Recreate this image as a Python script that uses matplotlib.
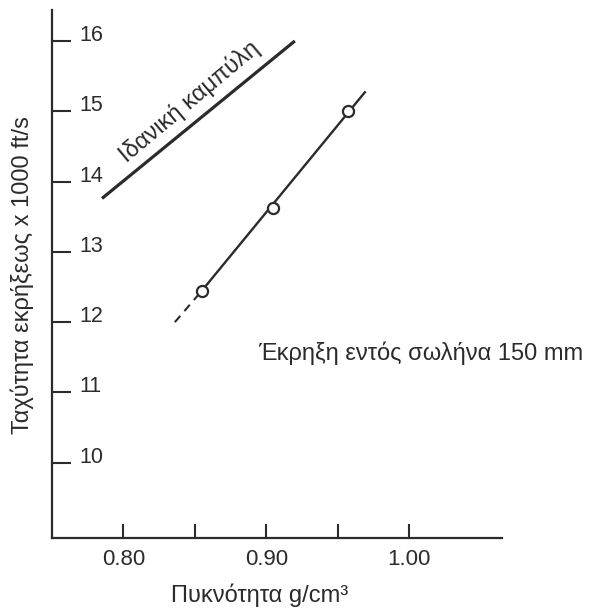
import matplotlib
matplotlib.use("Agg")
import matplotlib.pyplot as plt

plt.rcParams['font.family'] = ['Liberation Sans', 'DejaVu Sans']

# Μετρήσεις (πυκνότητα g/cm3, ταχύτητα x 1000 ft/s)
density = [0.855, 0.905, 0.957]
velocity = [12.45, 13.63, 15.0]

# Ευθεία προσαρμογής και προέκταση με διακεκομμένη
fit_density = [0.855, 0.969]
fit_velocity = [12.45, 15.27]
dash_density = [0.836, 0.855]
dash_velocity = [12.0, 12.45]

# Ιδανική καμπύλη
ideal_density = [0.785, 0.920]
ideal_velocity = [13.76, 16.0]

y_ticks = [10, 11, 12, 13, 14, 15, 16]
x_ticks = [0.80, 0.85, 0.90, 0.95, 1.00]
x_labels = ['0.80', '', '0.90', '', '1.00']

ink = '#2b2b2b'

fig = plt.figure(figsize=(5.93, 6.15), dpi=100)
ax = fig.add_axes([0.0877, 0.1252, 0.7588, 0.8585])

ax.plot(ideal_density, ideal_velocity, color=ink, lw=2.3, solid_capstyle='butt')
ax.plot(fit_density, fit_velocity, color=ink, lw=1.7)
ax.plot(dash_density, dash_velocity, color=ink, lw=1.5, linestyle=(0, (4, 3)))
ax.plot(density, velocity, 'o', ms=8, mfc='white', mec=ink, mew=1.6)

ax.text(0.846, 15.14, 'Ιδανική καμπύλη', rotation=40, ha='center', va='center',
        rotation_mode='anchor', fontsize=17, color=ink)
ax.text(0.894, 11.56, 'Έκρηξη εντός σωλήνα 150 mm', ha='left', va='center',
        fontsize=17, color=ink)

ax.set_xlim(0.750, 1.065)
ax.set_ylim(8.93, 16.44)

for side in ['top', 'right']:
    ax.spines[side].set_visible(False)
for side in ['left', 'bottom']:
    ax.spines[side].set_linewidth(1.6)
    ax.spines[side].set_color(ink)

ax.set_yticks(y_ticks)
ax.set_yticklabels([str(v) for v in y_ticks])
ax.tick_params(axis='y', direction='in', length=14, width=1.5, color=ink,
               pad=-20, labelsize=15.5, labelcolor=ink)
for lab in ax.get_yticklabels():
    lab.set_horizontalalignment('left')
    lab.set_verticalalignment('baseline')

ax.set_xticks(x_ticks)
ax.set_xticklabels(x_labels)
ax.tick_params(axis='x', direction='in', length=10, width=1.5, color=ink,
               pad=8, labelsize=16, labelcolor=ink)

fig.text(22 / 593, 1 - 275 / 615, 'Ταχύτητα εκρήξεως x 1000 ft/s', rotation=90,
         ha='center', va='center', fontsize=17, color=ink)
fig.text(260 / 593, 1 - 595 / 615, 'Πυκνότητα g/cm³', ha='center', va='center',
         fontsize=17, color=ink)

fig.savefig('out.png', dpi=100)
plt.close(fig)
